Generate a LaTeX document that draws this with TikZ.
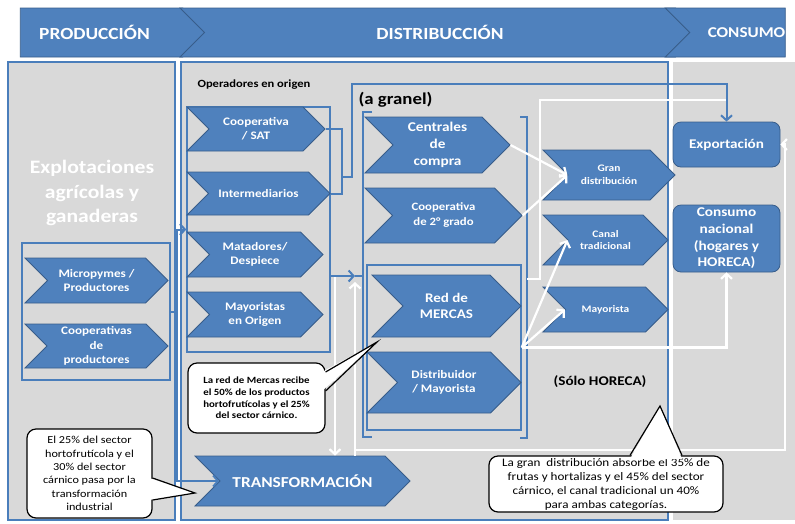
\documentclass[tikz,border=0pt]{standalone}
\usepackage{fontspec}
\setmainfont{Carlito}[FakeStretch=1.14]
\usepackage{tikz}
\usetikzlibrary{shapes.symbols,arrows.meta,positioning,calc}
\definecolor{panelgray}{HTML}{D9D9D9}
\definecolor{chevblue}{HTML}{4F81BD}
\definecolor{chevline}{HTML}{385D8A}
\definecolor{linkblue}{HTML}{4A7EBB}
\newcommand{\fsz}[2]{\fontsize{#1}{#2}\selectfont}
\tikzset{
  chev/.style={signal, signal to=east, signal from=west, signal pointer angle=90,
    fill=chevblue, draw=chevline, line width=0.8pt, text=white, font=\bfseries,
    align=center, inner sep=0pt},
  smallchev/.style={chev, font=\bfseries\fsz{11.5}{14.3}},
  retailchev/.style={chev, font=\bfseries\fsz{10}{12.5}},
  hdr/.style={chev, font=\bfseries\fsz{17}{20}},
  panel/.style={fill=panelgray, draw=linkblue, line width=1.6pt},
  groupbox/.style={draw=linkblue, line width=1.4pt, inner sep=0pt},
  endbox/.style={rectangle, rounded corners=8pt, fill=chevblue, draw=chevline,
    line width=0.8pt, text=white, align=center, inner sep=0pt},
  callout/.style={rectangle, rounded corners=9pt, fill=white, draw=black,
    line width=1.2pt, align=center, inner sep=0pt},
  bluelink/.style={draw=linkblue, line width=2pt},
  bluearr/.style={bluelink, -{Straight Barb[length=5pt,width=11pt]}},
  whitelink/.style={draw=white, line width=2.2pt},
  whitearr/.style={whitelink, -{Straight Barb[length=5pt,width=11pt]}}
}

\begin{document}
\begin{tikzpicture}[x=1pt,y=-1pt]
  \useasboundingbox (0,0) rectangle (795,523);

  % column panels
  \draw[panel] (8,62) rectangle (175,520);
  \draw[panel] (181,62) rectangle (668,520);
  \fill[panelgray] (673,62) rectangle (795,520);

  % header band
  \node[hdr, signal from=nowhere, minimum width=187pt, minimum height=49pt] (hprod) at (101.5,32.5) {\hspace*{-14pt}PRODUCCIÓN};
  \node[hdr, minimum width=520pt, minimum height=49pt] (hdist) at (440,32.5) {DISTRIBUCCIÓN};
  \node[hdr, signal to=nowhere, minimum width=115pt, minimum height=49pt, font=\bfseries\fsz{15}{18}] (hcons) at (737.5,32.5) {\hspace*{18pt}CONSUMO};

  % produccion
  \node[text=white, font=\bfseries\fsz{19}{24.5}, align=center] (explot) at (92,193) {Explotaciones\\agrícolas y\\ganaderas};
  \node[groupbox, minimum width=148pt, minimum height=137pt] (prodin) at (96,311.5) {};
  \node[smallchev, minimum width=143pt, minimum height=45pt] (micro) at (96.5,280.5) {Micropymes /\\Productores};
  \node[smallchev, minimum width=143pt, minimum height=44pt] (coopprod) at (96.5,346) {Cooperativas\\de\\productores};

  % operadores en origen
  \node[anchor=west, font=\bfseries\fsz{11}{13}] (oplabel) at (194,85) {Operadores en origen};
  \node[groupbox, minimum width=143pt, minimum height=245pt] (opbox) at (258.5,229.5) {};
  \node[smallchev, minimum width=138pt, minimum height=44pt] (coopsat) at (256,129) {Cooperativa\\/ SAT};
  \node[smallchev, minimum width=143pt, minimum height=43pt] (interm) at (258.5,193.5) {Intermediarios};
  \node[smallchev, minimum width=136pt, minimum height=45pt] (matad) at (255,254.5) {Matadores/\\Despiece};
  \node[smallchev, minimum width=136pt, minimum height=45pt] (mayorig) at (255,314.5) {Mayoristas\\en Origen};

  % a granel
  \node[anchor=west, font=\bfseries\fsz{16.5}{19}] (granel) at (355,100) {(a granel)};
  \draw[bluelink, line width=1.6pt] (372,112) -- (363,112) -- (363,437) -- (372,437);
  \draw[bluelink, line width=1.6pt] (520,117) -- (527,117) -- (527,438) -- (520,438);
  \node[chev, font=\bfseries\fsz{13.4}{16.7}, minimum width=145pt, minimum height=56pt] (centrales) at (437.5,145) {Centrales\\de\\compra};
  \node[chev, font=\bfseries\fsz{11.2}{15}, minimum width=157pt, minimum height=55pt] (coop2) at (443.5,215.5) {Cooperativa\\de 2° grado};
  \node[groupbox, minimum width=154pt, minimum height=165pt] (mercasbox) at (444,347.5) {};
  \node[chev, font=\bfseries\fsz{13.2}{16.7}, minimum width=149pt, minimum height=62pt] (mercas) at (446.5,306) {Red de\\MERCAS};
  \node[chev, font=\bfseries\fsz{11.5}{14.7}, minimum width=154pt, minimum height=61pt] (distrib) at (444,382.5) {Distribuidor\\/ Mayorista};

  % canales
  \node[retailchev, minimum width=132pt, minimum height=50pt] (gran) at (609,175) {Gran\\distribución};
  \node[retailchev, minimum width=125pt, minimum height=50pt] (canal) at (605.5,240) {Canal\\tradicional};
  \node[retailchev, minimum width=125pt, minimum height=45pt] (mayor) at (605.5,309.5) {Mayorista};
  \node[font=\bfseries\fsz{13.3}{16}] (horeca) at (600,382) {(Sólo HORECA)};

  % consumo
  \node[endbox, font=\bfseries\fsz{13.3}{16}, minimum width=107pt, minimum height=45pt] (export) at (726.5,144.5) {Exportación};
  \node[endbox, font=\bfseries\fsz{13.4}{16.7}, minimum width=107pt, minimum height=67pt] (consnac) at (726.5,238.5) {Consumo\\nacional\\(hogares y\\HORECA)};

  % transformacion
  \node[chev, font=\bfseries\fsz{15.2}{18}, minimum width=215pt, minimum height=50pt] (transf) at (302.5,481) {TRANSFORMACIÓN};

  % junctions
  \coordinate (jn) at (342,177);
  \coordinate (gl) at (355,276);
  \coordinate (ot) at (335,276);
  \coordinate (gr) at (527,279);
  \coordinate (tj) at (355,450);
  \coordinate (xr) at (785,450);

  % white flows
  \draw[whitelink] (gr) -- ++(13,0) |- ([yshift=22pt]export.north);
  \draw[whitearr] (centrales.east) -- (gran.west);
  \draw[whitearr] (coop2.east) -- (gran.west);
  \draw[whitearr] (mercasbox.east) -- (canal.west);
  \draw[whitearr] (mercasbox.east) -- (mayor.west);
  \draw[whitearr] (mercasbox.east) -| (consnac.south);
  \draw[whitearr] (ot) -- (ot |- transf.north);
  \draw[whitearr] (transf.north -| gl) -- ([yshift=-6pt]gl);
  \draw[whitearr] (tj) -- (xr) |- (export.east);

  % blue flows
  \draw[bluearr] (prodin.east) -- ++(6,0) |- (opbox.west);
  \draw[bluearr] (prodin.east) -- ++(6,0) |- (transf.west);
  \draw[bluelink] (coopsat.east) -| (jn);
  \draw[bluearr] (interm.east) -| (jn) -- ++(10,0) -- ++(0,-93) -| (export.north);
  \draw[bluearr] (opbox.east |- gl) -- (gl);
  \draw[bluelink] (gl) -- ++(8,0);

  % callouts
  \node[callout, font=\bfseries\fsz{9.5}{11.7}, minimum width=137pt, minimum height=70pt] (call1) at (256.5,398) {La red de Mercas recibe\\el 50\% de los productos\\hortofrutícolas y el 25\%\\del sector cárnico.};
  \coordinate (c1tip) at (377,342);
  \fill[white] (322,372) -- (c1tip) -- (322,391) -- cycle;
  \draw[line width=1.2pt] (call1.east |- 0,372) -- (c1tip) -- (call1.east |- 0,391);

  \node[callout, font=\fsz{10.7}{13.3}, minimum width=125pt, minimum height=89pt] (call2) at (89.5,473.5) {El 25\% del sector\\hortofrutícola y el\\30\% del sector\\cárnico pasa por la\\transformación\\industrial};
  \coordinate (c2tip) at (195,493);
  \fill[white] (149,478) -- (c2tip) -- (149,500) -- cycle;
  \draw[line width=1.2pt] (call2.east |- 0,478) -- (c2tip) -- (call2.east |- 0,500);

  \node[callout, font=\fsz{11.5}{14}, minimum width=234pt, minimum height=56pt] (call3) at (606,484) {La gran~ distribución absorbe el 35\% de\\frutas y hortalizas y el 45\% del sector\\cárnico, el canal tradicional un 40\%\\para ambas categorías.};
  \coordinate (c3tip) at (660,406);
  \fill[white] (630,459) -- (c3tip) -- (682,459) -- cycle;
  \draw[line width=1.2pt] (call3.north -| 630,0) -- (c3tip) -- (call3.north -| 682,0);
\end{tikzpicture}
\end{document}
